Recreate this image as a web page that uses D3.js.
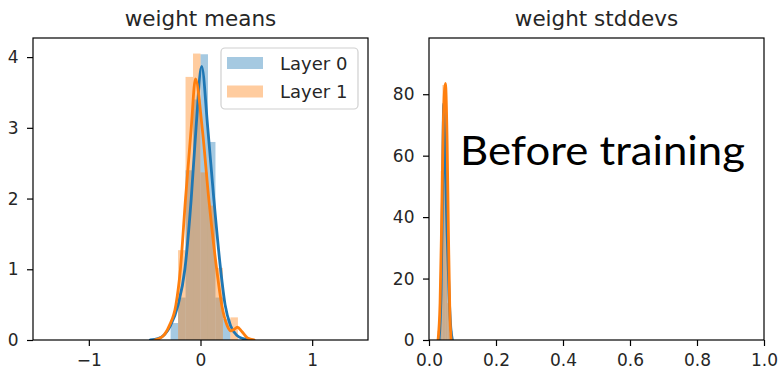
<!DOCTYPE html>
<html>
<head>
<meta charset="utf-8">
<script src="https://cdn.jsdelivr.net/npm/d3@7"></script>
<style>
  html, body { margin: 0; padding: 0; background: #fff; }
  svg { display: block; }
  .tick text { font-family: "DejaVu Sans", sans-serif; font-size: 17px; fill: #262626; }
</style>
</head>
<body>
<svg id="chart" width="782" height="373"></svg>
<script>
// ---- data ----
const seriesNames = ["Layer 0", "Layer 1"];
const meansXTicks = [-1, 0, 1];
const meansYTicks = [0, 1, 2, 3, 4];
const stdXTicks = [0.0, 0.2, 0.4, 0.6, 0.8, 1.0];
const stdYTicks = [0, 20, 40, 60, 80];

const meansBinEdges = [-0.268, -0.201, -0.134, -0.067, 0, 0.067, 0.134, 0.201, 0.268, 0.335];
const layer0MeansHist = [0.24, 0.6, 2.4, 3.4, 4.04, 2.8, 0.6, 0.3, 0];
const layer1MeansHist = [0, 1.27, 3.72, 4.05, 2.37, 1.9, 1.02, 0, 0.32];

const layer0MeansKdeX = [-0.45, -0.38, -0.32, -0.27, -0.2, -0.14, -0.083, -0.04, 0.01, 0.065, 0.119, 0.18, 0.22, 0.27, 0.33, 0.38, 0.45];
const layer0MeansKdeY = [0, 0.02, 0.08, 0.2, 0.5, 1.0, 2.0, 3.0, 3.87, 3.0, 2.0, 1.0, 0.5, 0.2, 0.06, 0.02, 0];
const layer1MeansKdeX = [-0.41, -0.34, -0.28, -0.22, -0.18, -0.134, -0.083, -0.045, 0.015, 0.074, 0.145, 0.19, 0.24, 0.27, 0.3, 0.33, 0.37, 0.42, 0.48];
const layer1MeansKdeY = [0, 0.05, 0.2, 0.5, 1.0, 2.0, 3.0, 3.69, 3.0, 2.0, 1.0, 0.5, 0.2, 0.13, 0.15, 0.18, 0.12, 0.03, 0];

const stdBinEdges = [0.025, 0.03, 0.035, 0.04, 0.045, 0.05, 0.055, 0.06, 0.065, 0.07];
const layer0StdHist = [0, 4, 20, 55, 77, 60, 30, 10, 3];
const layer1StdHist = [3, 18, 55, 83, 78, 42, 12, 2, 0];

const layer0StdKdeX = [0.03, 0.036, 0.04, 0.044, 0.048, 0.054, 0.06, 0.065, 0.07];
const layer0StdKdeY = [0, 15, 45, 77, 60, 35, 15, 4, 0];
const layer1StdKdeX = [0.027, 0.033, 0.038, 0.043, 0.049, 0.054, 0.058, 0.062, 0.066];
const layer1StdKdeY = [0, 12, 40, 72, 83.5, 65, 35, 10, 0];

const colors = ["#1f77b4", "#ff7f0e"];

// ---- drawing ----
const svg = d3.select("#chart");
const fontFam = '"DejaVu Sans", sans-serif';

function panel(cfg) {
  const x = d3.scaleLinear().domain(cfg.xDomain).range([cfg.left, cfg.right]);
  const y = d3.scaleLinear().domain(cfg.yDomain).range([cfg.bottom, cfg.top]);
  const g = svg.append("g");
  const clipId = "clip" + cfg.id;
  svg.append("clipPath").attr("id", clipId).append("rect")
    .attr("x", cfg.left).attr("y", cfg.top)
    .attr("width", cfg.right - cfg.left).attr("height", cfg.bottom - cfg.top);
  const plot = g.append("g").attr("clip-path", `url(#${clipId})`);
  const barLayer = plot.append("g");
  const lineLayer = plot.append("g");

  cfg.series.forEach((s, si) => {
    const bins = s.hist.map((h, i) => ({ x0: cfg.edges[i], x1: cfg.edges[i + 1], h }));
    barLayer.append("g").selectAll("rect").data(bins.filter(b => b.h > 0)).join("rect")
      .attr("x", b => x(b.x0))
      .attr("width", b => x(b.x1) - x(b.x0))
      .attr("y", b => y(b.h))
      .attr("height", b => y(0) - y(b.h))
      .attr("fill", colors[si]).attr("fill-opacity", 0.4);
    const pts = s.kdeX.map((v, i) => [v, s.kdeY[i]]);
    lineLayer.append("path").datum(pts)
      .attr("d", d3.line().x(d => x(d[0])).y(d => y(d[1])).curve(d3.curveMonotoneX))
      .attr("fill", "none").attr("stroke", colors[si]).attr("stroke-width", cfg.lw)
      .attr("stroke-linejoin", "round").attr("stroke-linecap", "round");
  });

  const xAxis = g.append("g").attr("transform", `translate(0,${cfg.bottom})`)
    .call(d3.axisBottom(x).tickValues(cfg.xTicks).tickSize(6).tickPadding(8)
      .tickFormat(cfg.xFmt));
  const yAxis = g.append("g").attr("transform", `translate(${cfg.left},0)`)
    .call(d3.axisLeft(y).tickValues(cfg.yTicks).tickSize(6).tickPadding(8.5)
      .tickFormat(cfg.yFmt));
  [xAxis, yAxis].forEach(a => {
    a.select(".domain").remove();
    a.selectAll(".tick line").attr("stroke", "#000").attr("stroke-width", 1.2);
  });
  g.append("rect").attr("x", cfg.left).attr("y", cfg.top)
    .attr("width", cfg.right - cfg.left).attr("height", cfg.bottom - cfg.top)
    .attr("fill", "none").attr("stroke", "#000").attr("stroke-width", 1.2);
  g.append("text").attr("x", (cfg.left + cfg.right) / 2).attr("y", 26)
    .attr("text-anchor", "middle").attr("font-family", fontFam)
    .attr("font-size", 21.5).attr("fill", "#262626").text(cfg.title);
  return { x, y, g };
}

const minusFmt = d => (d < 0 ? "\u2212" + Math.abs(d) : String(d));

panel({
  id: 1, left: 33, right: 368, top: 38, bottom: 340,
  xDomain: [-1.5, 1.5], yDomain: [0, 4.27],
  xTicks: meansXTicks, yTicks: meansYTicks, xFmt: minusFmt, yFmt: d3.format("d"),
  edges: meansBinEdges, lw: 2.8,
  title: "weight means",
  series: [
    { hist: layer0MeansHist, kdeX: layer0MeansKdeX, kdeY: layer0MeansKdeY },
    { hist: layer1MeansHist, kdeX: layer1MeansKdeX, kdeY: layer1MeansKdeY }
  ]
});

panel({
  id: 2, left: 429, right: 764, top: 38, bottom: 340,
  xDomain: [0, 1], yDomain: [0, 98.3],
  xTicks: stdXTicks, yTicks: stdYTicks, xFmt: d3.format(".1f"), yFmt: d3.format("d"),
  edges: stdBinEdges, lw: 2.8,
  title: "weight stddevs",
  series: [
    { hist: layer0StdHist, kdeX: layer0StdKdeX, kdeY: layer0StdKdeY },
    { hist: layer1StdHist, kdeX: layer1StdKdeX, kdeY: layer1StdKdeY }
  ]
});

// legend
const lg = svg.append("g");
lg.append("rect").attr("x", 221).attr("y", 48).attr("width", 137).attr("height", 61)
  .attr("rx", 4).attr("fill", "#fff").attr("fill-opacity", 0.8)
  .attr("stroke", "#d0d0d0").attr("stroke-width", 1.2);
seriesNames.forEach((n, i) => {
  lg.append("rect").attr("x", 227).attr("y", 57 + i * 28.5).attr("width", 36).attr("height", 12)
    .attr("fill", colors[i]).attr("fill-opacity", 0.4);
  lg.append("text").attr("x", 280).attr("y", 70 + i * 28).attr("font-family", fontFam)
    .attr("font-size", 18).attr("fill", "#262626").text(n);
});

// annotation
svg.append("text").attr("x", 460).attr("y", 165)
  .attr("font-family", "Lato, 'Open Sans', sans-serif").attr("font-size", 40)
  .attr("textLength", 285).attr("lengthAdjust", "spacingAndGlyphs")
  .attr("fill", "#000").text("Before training");
</script>
</body>
</html>
